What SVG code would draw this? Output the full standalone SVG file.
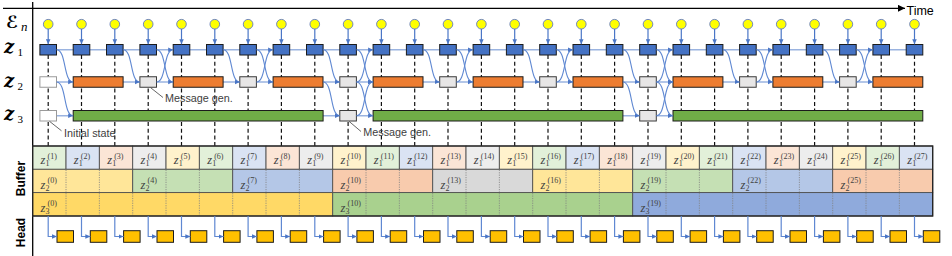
<svg xmlns="http://www.w3.org/2000/svg" width="952" height="256" viewBox="0 0 952 256">
<style>
.ax{stroke:#000;stroke-width:1.3;fill:none}
.rl{stroke:#9AB3E0;stroke-width:1.3;fill:none}
.dl{stroke:#111;stroke-width:1.2;stroke-dasharray:4 2.7;fill:none}
.cv{stroke:#5F88D2;stroke-width:1.1;fill:none;marker-end:url(#ab)}
.va{stroke:#4A76C6;stroke-width:1.2;fill:none;marker-end:url(#ab)}
.hl{stroke:#5F88D2;stroke-width:1.2;fill:none;marker-end:url(#ab)}
.bl{fill:#4472C4;stroke:#1b1b1b;stroke-width:1}
.or{fill:#ED7D31;stroke:#1b1b1b;stroke-width:1}
.gr{fill:#70AD47;stroke:#1b1b1b;stroke-width:1}
.gy{fill:#E7E6E6;stroke:#3a3a3a;stroke-width:1}
.wh{fill:#fff;stroke:#9a9a9a;stroke-width:1}
.ci{fill:#FFFF00;stroke:#6F86BF;stroke-width:1}
.hb{fill:#FFC000;stroke:#1b1b1b;stroke-width:1}
.ann{font-family:"Liberation Sans",Arial,sans-serif;font-size:10.8px;fill:#404040}
.pt{stroke:#555;stroke-width:0.9;fill:none}
.lab{font-family:"Liberation Sans",Arial,sans-serif;font-size:12px;font-weight:bold;fill:#000}
.tm{font-family:"Liberation Sans",Arial,sans-serif;font-size:12.5px;fill:#000}
.rz{font-family:"DejaVu Serif",serif;font-size:18px;font-weight:bold;font-style:italic;fill:#000}
.re{font-family:"DejaVu Serif","DejaVu Sans",serif;font-size:17px;font-weight:bold;font-style:italic;fill:#000}
.rs{font-family:"Liberation Serif",serif;font-size:11px;fill:#000}
.rn{font-family:"Liberation Serif",serif;font-size:13px;font-style:italic;fill:#000}
.mz{font-family:"Liberation Serif",serif;font-size:12.5px;font-style:italic;fill:#404040}
.ms{font-family:"Liberation Serif",serif;font-size:8px;font-style:normal;fill:#404040}
.cel{stroke:#505050;stroke-width:0.9}
.dot{stroke:#808080;stroke-width:0.8;stroke-dasharray:1.2 1.2}
.c1{fill:#E2F0D9}.c2{fill:#DAE3F3}.c3{fill:#FBE5D6}.c4{fill:#EDEDED}.c5{fill:#FFF2CC}
.s1{fill:#FFE699}.s2{fill:#C5E0B4}.s3{fill:#B4C7E7}.s4{fill:#F8CBAD}.s5{fill:#D9D9D9}
.t1{fill:#FFD966}.t2{fill:#A9D18E}.t3{fill:#8FAADC}
</style>
<defs>
<marker id="ab" viewBox="0 0 10 10" refX="10" refY="5" markerWidth="5" markerHeight="5" markerUnits="userSpaceOnUse" orient="auto"><path d="M0,0.5 L10,5 L0,9.5 z" fill="#4A76C6"/></marker>
<marker id="ak" viewBox="0 0 10 10" refX="10" refY="5" markerWidth="7" markerHeight="7" markerUnits="userSpaceOnUse" orient="auto"><path d="M0,0 L10,5 L0,10 z" fill="#000"/></marker>
<circle id="ep" class="ci" cx="0" cy="24.2" r="4.8"/>
<line id="ea" class="va" x1="0" y1="29" x2="0" y2="44.3"/>
<line id="dsh" class="dl" x1="0" y1="55" x2="0" y2="146"/>
<rect id="zb" class="bl" x="-8.3" y="44.5" width="16.6" height="10.5"/>
<path id="dn1" class="cv" d="M8.3 49.75 C18.3 49.75 15 82 25 82"/>
<path id="up1" class="cv" d="M8.3 82 C18.3 82 15 49.75 25 49.75"/>
<path id="dn2" class="cv" d="M8.3 82 C18.3 82 15 115.75 25 115.75"/>
<path id="up2" class="cv" d="M8.3 115.75 C18.3 115.75 15 82 25 82"/>
<path id="ha" class="hl" d="M0 216 V236.5 H8.8"/>
<rect id="hbx" class="hb" x="8.8" y="230.7" width="16.5" height="11.6"/>
</defs>

<g id="axes">
<line class="ax" x1="3" y1="8.3" x2="905" y2="8.3" style="marker-end:url(#ak)"/>
<line class="ax" x1="32.7" y1="2" x2="32.7" y2="256"/>
<text class="tm" x="906.5" y="15">Time</text>
</g>

<g id="row-labels">
<text class="re" x="6" y="27.5">ℰ</text><text class="rn" x="21" y="30.5">n</text>
<text class="rz" x="4" y="52.5">z</text><text class="rs" x="17.5" y="56">1</text>
<text class="rz" x="4" y="87">z</text><text class="rs" x="17.5" y="90">2</text>
<text class="rz" x="4" y="120">z</text><text class="rs" x="17.5" y="123">3</text>
<text class="lab" transform="translate(25 178.5) rotate(-90)" text-anchor="middle">Buffer</text>
<text class="lab" transform="translate(25 232.5) rotate(-90)" text-anchor="middle">Head</text>
</g>

<g id="guides">
<line class="rl" x1="48.2" y1="49.75" x2="914.5" y2="49.75"/>
<line class="rl" x1="48.2" y1="82" x2="914.5" y2="82"/>
<line class="rl" x1="48.2" y1="115.75" x2="914.5" y2="115.75"/>
<use href="#dsh" x="48.2"/><use href="#dsh" x="81.5"/><use href="#dsh" x="114.8"/><use href="#dsh" x="148.2"/><use href="#dsh" x="181.5"/><use href="#dsh" x="214.8"/><use href="#dsh" x="248.1"/><use href="#dsh" x="281.4"/><use href="#dsh" x="314.8"/><use href="#dsh" x="348.1"/><use href="#dsh" x="381.4"/><use href="#dsh" x="414.7"/><use href="#dsh" x="448"/><use href="#dsh" x="481.4"/><use href="#dsh" x="514.7"/><use href="#dsh" x="548"/><use href="#dsh" x="581.3"/><use href="#dsh" x="614.6"/><use href="#dsh" x="648"/><use href="#dsh" x="681.3"/><use href="#dsh" x="714.6"/><use href="#dsh" x="747.9"/><use href="#dsh" x="781.2"/><use href="#dsh" x="814.6"/><use href="#dsh" x="847.9"/><use href="#dsh" x="881.2"/><use href="#dsh" x="914.5"/>
</g>

<g id="noise">
<use id="e0" href="#ep" x="48.2"/><use id="e1" href="#ep" x="81.5"/><use id="e2" href="#ep" x="114.8"/><use id="e3" href="#ep" x="148.2"/><use id="e4" href="#ep" x="181.5"/><use id="e5" href="#ep" x="214.8"/><use id="e6" href="#ep" x="248.1"/><use id="e7" href="#ep" x="281.4"/><use id="e8" href="#ep" x="314.8"/><use id="e9" href="#ep" x="348.1"/><use id="e10" href="#ep" x="381.4"/><use id="e11" href="#ep" x="414.7"/><use id="e12" href="#ep" x="448"/><use id="e13" href="#ep" x="481.4"/><use id="e14" href="#ep" x="514.7"/><use id="e15" href="#ep" x="548"/><use id="e16" href="#ep" x="581.3"/><use id="e17" href="#ep" x="614.6"/><use id="e18" href="#ep" x="648"/><use id="e19" href="#ep" x="681.3"/><use id="e20" href="#ep" x="714.6"/><use id="e21" href="#ep" x="747.9"/><use id="e22" href="#ep" x="781.2"/><use id="e23" href="#ep" x="814.6"/><use id="e24" href="#ep" x="847.9"/><use id="e25" href="#ep" x="881.2"/><use id="e26" href="#ep" x="914.5"/>
</g>

<g id="z1-row">
<use id="z1-0" href="#zb" x="48.2"/><use id="z1-1" href="#zb" x="81.5"/><use id="z1-2" href="#zb" x="114.8"/><use id="z1-3" href="#zb" x="148.2"/><use id="z1-4" href="#zb" x="181.5"/><use id="z1-5" href="#zb" x="214.8"/><use id="z1-6" href="#zb" x="248.1"/><use id="z1-7" href="#zb" x="281.4"/><use id="z1-8" href="#zb" x="314.8"/><use id="z1-9" href="#zb" x="348.1"/><use id="z1-10" href="#zb" x="381.4"/><use id="z1-11" href="#zb" x="414.7"/><use id="z1-12" href="#zb" x="448"/><use id="z1-13" href="#zb" x="481.4"/><use id="z1-14" href="#zb" x="514.7"/><use id="z1-15" href="#zb" x="548"/><use id="z1-16" href="#zb" x="581.3"/><use id="z1-17" href="#zb" x="614.6"/><use id="z1-18" href="#zb" x="648"/><use id="z1-19" href="#zb" x="681.3"/><use id="z1-20" href="#zb" x="714.6"/><use id="z1-21" href="#zb" x="747.9"/><use id="z1-22" href="#zb" x="781.2"/><use id="z1-23" href="#zb" x="814.6"/><use id="z1-24" href="#zb" x="847.9"/><use id="z1-25" href="#zb" x="881.2"/><use id="z1-26" href="#zb" x="914.5"/>
</g>

<g id="z2-row">
<rect id="z2-init" class="wh" x="39.9" y="76.75" width="16.6" height="10.5"/>
<rect id="z2-a" class="or" x="73.2" y="76.75" width="49.9" height="10.5"/>
<rect id="z2-m3" class="gy" x="139.9" y="76.75" width="16.6" height="10.5"/>
<rect id="z2-b" class="or" x="173.2" y="76.75" width="49.9" height="10.5"/>
<rect id="z2-m6" class="gy" x="239.8" y="76.75" width="16.6" height="10.5"/>
<rect id="z2-c" class="or" x="273.1" y="76.75" width="49.9" height="10.5"/>
<rect id="z2-m9" class="gy" x="339.8" y="76.75" width="16.6" height="10.5"/>
<rect id="z2-d" class="or" x="373.1" y="76.75" width="49.9" height="10.5"/>
<rect id="z2-m12" class="gy" x="439.7" y="76.75" width="16.6" height="10.5"/>
<rect id="z2-e" class="or" x="473.1" y="76.75" width="49.9" height="10.5"/>
<rect id="z2-m15" class="gy" x="539.7" y="76.75" width="16.6" height="10.5"/>
<rect id="z2-f" class="or" x="573" y="76.75" width="49.9" height="10.5"/>
<rect id="z2-m18" class="gy" x="639.7" y="76.75" width="16.6" height="10.5"/>
<rect id="z2-g" class="or" x="673" y="76.75" width="49.9" height="10.5"/>
<rect id="z2-m21" class="gy" x="739.6" y="76.75" width="16.6" height="10.5"/>
<rect id="z2-h" class="or" x="772.9" y="76.75" width="49.9" height="10.5"/>
<rect id="z2-m24" class="gy" x="839.6" y="76.75" width="16.6" height="10.5"/>
<rect id="z2-i" class="or" x="872.9" y="76.75" width="49.9" height="10.5"/>
</g>

<g id="z3-row">
<rect id="z3-init" class="wh" x="39.9" y="110.5" width="16.6" height="10.5"/>
<rect id="z3-a" class="gr" x="73.2" y="110.5" width="249.9" height="10.5"/>
<rect id="z3-m9" class="gy" x="339.8" y="110.5" width="16.6" height="10.5"/>
<rect id="z3-b" class="gr" x="373.1" y="110.5" width="249.8" height="10.5"/>
<rect id="z3-m18" class="gy" x="639.7" y="110.5" width="16.6" height="10.5"/>
<rect id="z3-c" class="gr" x="673" y="110.5" width="249.8" height="10.5"/>
</g>

<g id="buffer">
<g id="buf-z1">
<g id="b1-1" transform="translate(32.7 0)"><rect class="c1 cel" y="146" width="33.33" height="23.3"/><text class="mz" x="7.8" y="163.5">z<tspan class="ms" x="12.8" y="166">1</tspan><tspan class="ms" x="14.8" y="158.5">(1)</tspan></text></g>
<g id="b1-2" transform="translate(66.03 0)"><rect class="c2 cel" y="146" width="33.33" height="23.3"/><text class="mz" x="7.8" y="163.5">z<tspan class="ms" x="12.8" y="166">1</tspan><tspan class="ms" x="14.8" y="158.5">(2)</tspan></text></g>
<g id="b1-3" transform="translate(99.37 0)"><rect class="c3 cel" y="146" width="33.33" height="23.3"/><text class="mz" x="7.8" y="163.5">z<tspan class="ms" x="12.8" y="166">1</tspan><tspan class="ms" x="14.8" y="158.5">(3)</tspan></text></g>
<g id="b1-4" transform="translate(132.7 0)"><rect class="c4 cel" y="146" width="33.33" height="23.3"/><text class="mz" x="7.8" y="163.5">z<tspan class="ms" x="12.8" y="166">1</tspan><tspan class="ms" x="14.8" y="158.5">(4)</tspan></text></g>
<g id="b1-5" transform="translate(166.03 0)"><rect class="c5 cel" y="146" width="33.33" height="23.3"/><text class="mz" x="7.8" y="163.5">z<tspan class="ms" x="12.8" y="166">1</tspan><tspan class="ms" x="14.8" y="158.5">(5)</tspan></text></g>
<g id="b1-6" transform="translate(199.37 0)"><rect class="c1 cel" y="146" width="33.33" height="23.3"/><text class="mz" x="7.8" y="163.5">z<tspan class="ms" x="12.8" y="166">1</tspan><tspan class="ms" x="14.8" y="158.5">(6)</tspan></text></g>
<g id="b1-7" transform="translate(232.7 0)"><rect class="c2 cel" y="146" width="33.33" height="23.3"/><text class="mz" x="7.8" y="163.5">z<tspan class="ms" x="12.8" y="166">1</tspan><tspan class="ms" x="14.8" y="158.5">(7)</tspan></text></g>
<g id="b1-8" transform="translate(266.03 0)"><rect class="c3 cel" y="146" width="33.33" height="23.3"/><text class="mz" x="7.8" y="163.5">z<tspan class="ms" x="12.8" y="166">1</tspan><tspan class="ms" x="14.8" y="158.5">(8)</tspan></text></g>
<g id="b1-9" transform="translate(299.37 0)"><rect class="c4 cel" y="146" width="33.33" height="23.3"/><text class="mz" x="7.8" y="163.5">z<tspan class="ms" x="12.8" y="166">1</tspan><tspan class="ms" x="14.8" y="158.5">(9)</tspan></text></g>
<g id="b1-10" transform="translate(332.7 0)"><rect class="c5 cel" y="146" width="33.33" height="23.3"/><text class="mz" x="7.8" y="163.5">z<tspan class="ms" x="12.8" y="166">1</tspan><tspan class="ms" x="14.8" y="158.5">(10)</tspan></text></g>
<g id="b1-11" transform="translate(366.03 0)"><rect class="c1 cel" y="146" width="33.33" height="23.3"/><text class="mz" x="7.8" y="163.5">z<tspan class="ms" x="12.8" y="166">1</tspan><tspan class="ms" x="14.8" y="158.5">(11)</tspan></text></g>
<g id="b1-12" transform="translate(399.37 0)"><rect class="c2 cel" y="146" width="33.33" height="23.3"/><text class="mz" x="7.8" y="163.5">z<tspan class="ms" x="12.8" y="166">1</tspan><tspan class="ms" x="14.8" y="158.5">(12)</tspan></text></g>
<g id="b1-13" transform="translate(432.7 0)"><rect class="c3 cel" y="146" width="33.33" height="23.3"/><text class="mz" x="7.8" y="163.5">z<tspan class="ms" x="12.8" y="166">1</tspan><tspan class="ms" x="14.8" y="158.5">(13)</tspan></text></g>
<g id="b1-14" transform="translate(466.03 0)"><rect class="c4 cel" y="146" width="33.33" height="23.3"/><text class="mz" x="7.8" y="163.5">z<tspan class="ms" x="12.8" y="166">1</tspan><tspan class="ms" x="14.8" y="158.5">(14)</tspan></text></g>
<g id="b1-15" transform="translate(499.37 0)"><rect class="c5 cel" y="146" width="33.33" height="23.3"/><text class="mz" x="7.8" y="163.5">z<tspan class="ms" x="12.8" y="166">1</tspan><tspan class="ms" x="14.8" y="158.5">(15)</tspan></text></g>
<g id="b1-16" transform="translate(532.7 0)"><rect class="c1 cel" y="146" width="33.33" height="23.3"/><text class="mz" x="7.8" y="163.5">z<tspan class="ms" x="12.8" y="166">1</tspan><tspan class="ms" x="14.8" y="158.5">(16)</tspan></text></g>
<g id="b1-17" transform="translate(566.03 0)"><rect class="c2 cel" y="146" width="33.33" height="23.3"/><text class="mz" x="7.8" y="163.5">z<tspan class="ms" x="12.8" y="166">1</tspan><tspan class="ms" x="14.8" y="158.5">(17)</tspan></text></g>
<g id="b1-18" transform="translate(599.37 0)"><rect class="c3 cel" y="146" width="33.33" height="23.3"/><text class="mz" x="7.8" y="163.5">z<tspan class="ms" x="12.8" y="166">1</tspan><tspan class="ms" x="14.8" y="158.5">(18)</tspan></text></g>
<g id="b1-19" transform="translate(632.7 0)"><rect class="c4 cel" y="146" width="33.33" height="23.3"/><text class="mz" x="7.8" y="163.5">z<tspan class="ms" x="12.8" y="166">1</tspan><tspan class="ms" x="14.8" y="158.5">(19)</tspan></text></g>
<g id="b1-20" transform="translate(666.03 0)"><rect class="c5 cel" y="146" width="33.33" height="23.3"/><text class="mz" x="7.8" y="163.5">z<tspan class="ms" x="12.8" y="166">1</tspan><tspan class="ms" x="14.8" y="158.5">(20)</tspan></text></g>
<g id="b1-21" transform="translate(699.37 0)"><rect class="c1 cel" y="146" width="33.33" height="23.3"/><text class="mz" x="7.8" y="163.5">z<tspan class="ms" x="12.8" y="166">1</tspan><tspan class="ms" x="14.8" y="158.5">(21)</tspan></text></g>
<g id="b1-22" transform="translate(732.7 0)"><rect class="c2 cel" y="146" width="33.33" height="23.3"/><text class="mz" x="7.8" y="163.5">z<tspan class="ms" x="12.8" y="166">1</tspan><tspan class="ms" x="14.8" y="158.5">(22)</tspan></text></g>
<g id="b1-23" transform="translate(766.03 0)"><rect class="c3 cel" y="146" width="33.33" height="23.3"/><text class="mz" x="7.8" y="163.5">z<tspan class="ms" x="12.8" y="166">1</tspan><tspan class="ms" x="14.8" y="158.5">(23)</tspan></text></g>
<g id="b1-24" transform="translate(799.37 0)"><rect class="c4 cel" y="146" width="33.33" height="23.3"/><text class="mz" x="7.8" y="163.5">z<tspan class="ms" x="12.8" y="166">1</tspan><tspan class="ms" x="14.8" y="158.5">(24)</tspan></text></g>
<g id="b1-25" transform="translate(832.7 0)"><rect class="c5 cel" y="146" width="33.33" height="23.3"/><text class="mz" x="7.8" y="163.5">z<tspan class="ms" x="12.8" y="166">1</tspan><tspan class="ms" x="14.8" y="158.5">(25)</tspan></text></g>
<g id="b1-26" transform="translate(866.03 0)"><rect class="c1 cel" y="146" width="33.33" height="23.3"/><text class="mz" x="7.8" y="163.5">z<tspan class="ms" x="12.8" y="166">1</tspan><tspan class="ms" x="14.8" y="158.5">(26)</tspan></text></g>
<g id="b1-27" transform="translate(899.37 0)"><rect class="c2 cel" y="146" width="33.33" height="23.3"/><text class="mz" x="7.8" y="163.5">z<tspan class="ms" x="12.8" y="166">1</tspan><tspan class="ms" x="14.8" y="158.5">(27)</tspan></text></g>
</g>
<g id="buf-z2">
<g id="b2-0" transform="translate(32.7 0)"><rect class="s1 cel" y="169.3" width="100" height="23.3"/><line class="dot" x1="33.33" y1="169.8" x2="33.33" y2="192.1"/><line class="dot" x1="66.67" y1="169.8" x2="66.67" y2="192.1"/><text class="mz" x="7.8" y="188.6">z<tspan class="ms" x="12.8" y="190.9">2</tspan><tspan class="ms" x="14.8" y="182.6">(0)</tspan></text></g>
<g id="b2-4" transform="translate(132.7 0)"><rect class="s2 cel" y="169.3" width="100" height="23.3"/><line class="dot" x1="33.33" y1="169.8" x2="33.33" y2="192.1"/><line class="dot" x1="66.67" y1="169.8" x2="66.67" y2="192.1"/><text class="mz" x="7.8" y="188.6">z<tspan class="ms" x="12.8" y="190.9">2</tspan><tspan class="ms" x="14.8" y="182.6">(4)</tspan></text></g>
<g id="b2-7" transform="translate(232.7 0)"><rect class="s3 cel" y="169.3" width="100" height="23.3"/><line class="dot" x1="33.33" y1="169.8" x2="33.33" y2="192.1"/><line class="dot" x1="66.67" y1="169.8" x2="66.67" y2="192.1"/><text class="mz" x="7.8" y="188.6">z<tspan class="ms" x="12.8" y="190.9">2</tspan><tspan class="ms" x="14.8" y="182.6">(7)</tspan></text></g>
<g id="b2-10" transform="translate(332.7 0)"><rect class="s4 cel" y="169.3" width="100" height="23.3"/><line class="dot" x1="33.33" y1="169.8" x2="33.33" y2="192.1"/><line class="dot" x1="66.67" y1="169.8" x2="66.67" y2="192.1"/><text class="mz" x="7.8" y="188.6">z<tspan class="ms" x="12.8" y="190.9">2</tspan><tspan class="ms" x="14.8" y="182.6">(10)</tspan></text></g>
<g id="b2-13" transform="translate(432.7 0)"><rect class="s5 cel" y="169.3" width="100" height="23.3"/><line class="dot" x1="33.33" y1="169.8" x2="33.33" y2="192.1"/><line class="dot" x1="66.67" y1="169.8" x2="66.67" y2="192.1"/><text class="mz" x="7.8" y="188.6">z<tspan class="ms" x="12.8" y="190.9">2</tspan><tspan class="ms" x="14.8" y="182.6">(13)</tspan></text></g>
<g id="b2-16" transform="translate(532.7 0)"><rect class="s1 cel" y="169.3" width="100" height="23.3"/><line class="dot" x1="33.33" y1="169.8" x2="33.33" y2="192.1"/><line class="dot" x1="66.67" y1="169.8" x2="66.67" y2="192.1"/><text class="mz" x="7.8" y="188.6">z<tspan class="ms" x="12.8" y="190.9">2</tspan><tspan class="ms" x="14.8" y="182.6">(16)</tspan></text></g>
<g id="b2-19" transform="translate(632.7 0)"><rect class="s2 cel" y="169.3" width="100" height="23.3"/><line class="dot" x1="33.33" y1="169.8" x2="33.33" y2="192.1"/><line class="dot" x1="66.67" y1="169.8" x2="66.67" y2="192.1"/><text class="mz" x="7.8" y="188.6">z<tspan class="ms" x="12.8" y="190.9">2</tspan><tspan class="ms" x="14.8" y="182.6">(19)</tspan></text></g>
<g id="b2-22" transform="translate(732.7 0)"><rect class="s3 cel" y="169.3" width="100" height="23.3"/><line class="dot" x1="33.33" y1="169.8" x2="33.33" y2="192.1"/><line class="dot" x1="66.67" y1="169.8" x2="66.67" y2="192.1"/><text class="mz" x="7.8" y="188.6">z<tspan class="ms" x="12.8" y="190.9">2</tspan><tspan class="ms" x="14.8" y="182.6">(22)</tspan></text></g>
<g id="b2-25" transform="translate(832.7 0)"><rect class="s4 cel" y="169.3" width="100" height="23.3"/><line class="dot" x1="33.33" y1="169.8" x2="33.33" y2="192.1"/><line class="dot" x1="66.67" y1="169.8" x2="66.67" y2="192.1"/><text class="mz" x="7.8" y="188.6">z<tspan class="ms" x="12.8" y="190.9">2</tspan><tspan class="ms" x="14.8" y="182.6">(25)</tspan></text></g>
</g>
<g id="buf-z3">
<g id="b3-0" transform="translate(32.7 0)"><rect class="t1 cel" y="192.6" width="300" height="23.4"/><path class="dot" d="M33.33 193.1V215.5M66.67 193.1V215.5M100 193.1V215.5M133.33 193.1V215.5M166.67 193.1V215.5M200 193.1V215.5M233.33 193.1V215.5M266.67 193.1V215.5"/><text class="mz" x="7.8" y="212">z<tspan class="ms" x="12.8" y="214.2">3</tspan><tspan class="ms" x="14.8" y="206">(0)</tspan></text></g>
<g id="b3-10" transform="translate(332.7 0)"><rect class="t2 cel" y="192.6" width="300" height="23.4"/><path class="dot" d="M33.33 193.1V215.5M66.67 193.1V215.5M100 193.1V215.5M133.33 193.1V215.5M166.67 193.1V215.5M200 193.1V215.5M233.33 193.1V215.5M266.67 193.1V215.5"/><text class="mz" x="7.8" y="212">z<tspan class="ms" x="12.8" y="214.2">3</tspan><tspan class="ms" x="14.8" y="206">(10)</tspan></text></g>
<g id="b3-19" transform="translate(632.7 0)"><rect class="t3 cel" y="192.6" width="300" height="23.4"/><path class="dot" d="M33.33 193.1V215.5M66.67 193.1V215.5M100 193.1V215.5M133.33 193.1V215.5M166.67 193.1V215.5M200 193.1V215.5M233.33 193.1V215.5M266.67 193.1V215.5"/><text class="mz" x="7.8" y="212">z<tspan class="ms" x="12.8" y="214.2">3</tspan><tspan class="ms" x="14.8" y="206">(19)</tspan></text></g>
</g>
<rect x="32.7" y="146" width="900" height="70" fill="none" stroke="#222" stroke-width="1.3"/>
</g>

<g id="head">
<use id="h0" href="#hbx" x="48.2"/><use id="h1" href="#hbx" x="81.5"/><use id="h2" href="#hbx" x="114.8"/><use id="h3" href="#hbx" x="148.2"/><use id="h4" href="#hbx" x="181.5"/><use id="h5" href="#hbx" x="214.8"/><use id="h6" href="#hbx" x="248.1"/><use id="h7" href="#hbx" x="281.4"/><use id="h8" href="#hbx" x="314.8"/><use id="h9" href="#hbx" x="348.1"/><use id="h10" href="#hbx" x="381.4"/><use id="h11" href="#hbx" x="414.7"/><use id="h12" href="#hbx" x="448"/><use id="h13" href="#hbx" x="481.4"/><use id="h14" href="#hbx" x="514.7"/><use id="h15" href="#hbx" x="548"/><use id="h16" href="#hbx" x="581.3"/><use id="h17" href="#hbx" x="614.6"/><use id="h18" href="#hbx" x="648"/><use id="h19" href="#hbx" x="681.3"/><use id="h20" href="#hbx" x="714.6"/><use id="h21" href="#hbx" x="747.9"/><use id="h22" href="#hbx" x="781.2"/><use id="h23" href="#hbx" x="814.6"/><use id="h24" href="#hbx" x="847.9"/><use id="h25" href="#hbx" x="881.2"/><use id="h26" href="#hbx" x="914.5"/>
</g>

<g id="connectors">
<use href="#ea" x="48.2"/><use href="#ea" x="81.5"/><use href="#ea" x="114.8"/><use href="#ea" x="148.2"/><use href="#ea" x="181.5"/><use href="#ea" x="214.8"/><use href="#ea" x="248.1"/><use href="#ea" x="281.4"/><use href="#ea" x="314.8"/><use href="#ea" x="348.1"/><use href="#ea" x="381.4"/><use href="#ea" x="414.7"/><use href="#ea" x="448"/><use href="#ea" x="481.4"/><use href="#ea" x="514.7"/><use href="#ea" x="548"/><use href="#ea" x="581.3"/><use href="#ea" x="614.6"/><use href="#ea" x="648"/><use href="#ea" x="681.3"/><use href="#ea" x="714.6"/><use href="#ea" x="747.9"/><use href="#ea" x="781.2"/><use href="#ea" x="814.6"/><use href="#ea" x="847.9"/><use href="#ea" x="881.2"/><use href="#ea" x="914.5"/>
<use href="#dn1" x="48.2"/><use href="#dn1" x="114.8"/><use href="#dn1" x="148.2"/><use href="#dn1" x="214.8"/><use href="#dn1" x="248.1"/><use href="#dn1" x="314.8"/><use href="#dn1" x="348.1"/><use href="#dn1" x="414.7"/><use href="#dn1" x="448"/><use href="#dn1" x="514.7"/><use href="#dn1" x="548"/><use href="#dn1" x="614.6"/><use href="#dn1" x="648"/><use href="#dn1" x="714.6"/><use href="#dn1" x="747.9"/><use href="#dn1" x="814.6"/><use href="#dn1" x="847.9"/>
<use href="#up1" x="148.2"/><use href="#up1" x="248.1"/><use href="#up1" x="348.1"/><use href="#up1" x="448"/><use href="#up1" x="548"/><use href="#up1" x="648"/><use href="#up1" x="747.9"/><use href="#up1" x="847.9"/>
<use href="#dn2" x="48.2"/><use href="#dn2" x="314.8"/><use href="#dn2" x="348.1"/><use href="#dn2" x="614.6"/><use href="#dn2" x="648"/>
<use href="#up2" x="348.1"/><use href="#up2" x="648"/>
<use href="#ha" x="48.2"/><use href="#ha" x="81.5"/><use href="#ha" x="114.8"/><use href="#ha" x="148.2"/><use href="#ha" x="181.5"/><use href="#ha" x="214.8"/><use href="#ha" x="248.1"/><use href="#ha" x="281.4"/><use href="#ha" x="314.8"/><use href="#ha" x="348.1"/><use href="#ha" x="381.4"/><use href="#ha" x="414.7"/><use href="#ha" x="448"/><use href="#ha" x="481.4"/><use href="#ha" x="514.7"/><use href="#ha" x="548"/><use href="#ha" x="581.3"/><use href="#ha" x="614.6"/><use href="#ha" x="648"/><use href="#ha" x="681.3"/><use href="#ha" x="714.6"/><use href="#ha" x="747.9"/><use href="#ha" x="781.2"/><use href="#ha" x="814.6"/><use href="#ha" x="847.9"/><use href="#ha" x="881.2"/><use href="#ha" x="914.5"/>
</g>

<g id="annotations">
<line class="pt" x1="150.5" y1="87.6" x2="163" y2="97.5"/><text class="ann" x="165" y="101.5">Message gen.</text>
<line class="pt" x1="349" y1="121.3" x2="361" y2="131.5"/><text class="ann" x="363.3" y="136">Message gen.</text>
<line class="pt" x1="49.5" y1="121.3" x2="61.5" y2="130.8"/><text class="ann" x="64" y="136.5">Initial state</text>
</g>
</svg>
